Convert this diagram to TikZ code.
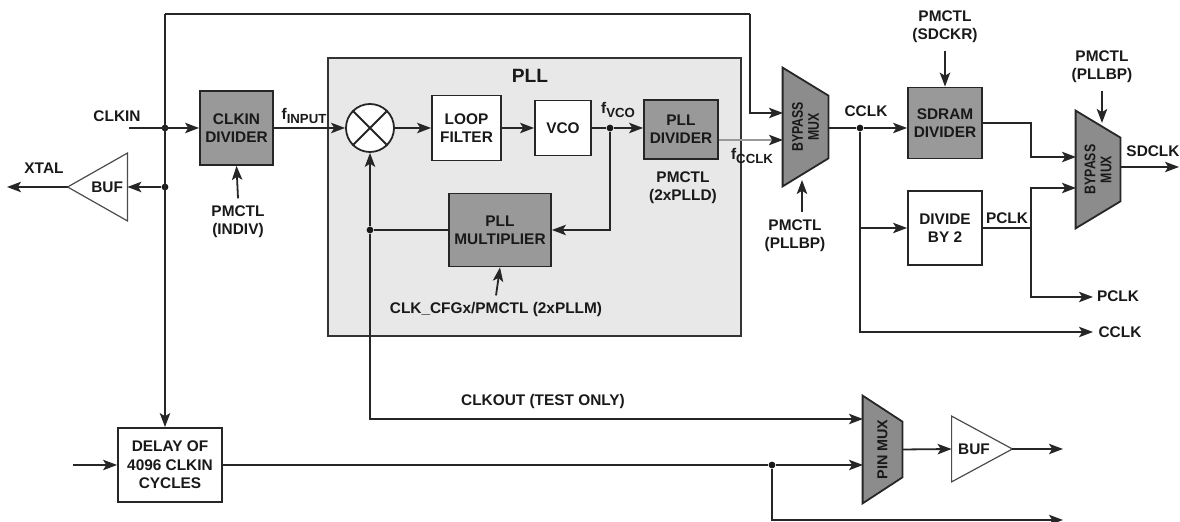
\documentclass[tikz,border=0pt]{standalone}
\usepackage{fontspec}
\setmainfont{Liberation Sans}
\newfontfamily\narrowsans[FakeStretch=0.8]{Liberation Sans}
\usetikzlibrary{arrows.meta, positioning, calc}
\tikzset{>={Stealth[length=7pt,width=5.2pt,inset=1.6pt]}}
\newcommand{\fsig}[2]{#1\raisebox{-0.5ex}{\fontsize{6.6}{7}\selectfont #2}}

\begin{document}
\begin{tikzpicture}[
  x=0.5pt, y=-0.5pt,
  txt/.style={font=\bfseries\fontsize{7.7}{9.2}\selectfont, text=black!90, align=center, inner sep=0pt},
  ctl/.style={txt, inner ysep=3.5pt},
  block/.style={txt, draw=black!85, line width=0.9pt, fill=white},
  gblock/.style={block, fill=black!40},
  sig/.style={->, line width=0.9pt, draw=black!85},
  wire/.style={line width=0.9pt, draw=black!85},
  graysig/.style={line width=0.9pt, draw=black!40, -{Stealth[length=7pt,width=5.2pt,inset=1.6pt,black!85]}},
  dot/.style={circle, fill=black!90, inner sep=0pt, minimum size=3.4pt},
  muxbody/.style={draw=black!85, line width=0.9pt, fill=black!45},
  muxtxt/.style={txt, font=\narrowsans\bfseries\fontsize{7.7}{8}\selectfont, rotate=90},
  bufbody/.style={draw=black!70, line width=0.6pt, fill=white},
  frame/.style={inner sep=0pt}
]
  \useasboundingbox (0,0) rectangle (1180,522);

  % PLL area
  \node[draw=black!80, line width=0.9pt, fill=black!9, minimum width=206.5pt, minimum height=139pt] (pll) at (534.5,197) {};
  \node[txt, font=\bfseries\fontsize{9.6}{10}\selectfont] (pllLbl) at (530,76) {PLL};

  % Nodes
  \node[gblock, minimum width=36.5pt, minimum height=37pt] (clkDiv) at (236.5,128) {CLKIN\\DIVIDER};
  \node[circle, draw=black!85, line width=0.9pt, fill=white, minimum size=24pt] (mix) at (370,128) {};
  \draw[wire] (mix.north west) -- (mix.south east) (mix.north east) -- (mix.south west);
  \node[block, minimum width=34.5pt, minimum height=32.5pt] (loopF) at (466.5,128) {LOOP\\FILTER};
  \node[block, minimum width=28pt, minimum height=27.5pt] (vco) at (563,128) {VCO};
  \node[gblock, minimum width=37pt, minimum height=29.5pt] (pllDiv) at (681,129.5) {PLL\\DIVIDER};
  \node[gblock, minimum width=51pt, minimum height=36.5pt] (pllMul) at (500,230) {PLL\\MULTIPLIER};
  \node[gblock, minimum width=37pt, minimum height=35.5pt] (sdDiv) at (945,123) {SDRAM\\DIVIDER};
  \node[block, minimum width=37pt, minimum height=37pt] (div2) at (945,228) {DIVIDE\\BY 2};
  \node[block, minimum width=52pt, minimum height=37pt] (delay) at (170,465) {DELAY OF\\4096 CLKIN\\CYCLES};

  % Muxes and buffers
  \node[frame, minimum width=22.5pt, minimum height=59pt] (muxA) at (805.5,127) {};
  \node[frame, minimum width=22pt, minimum height=58.5pt] (muxB) at (1098,169.5) {};
  \node[frame, minimum width=19.5pt, minimum height=53.5pt] (pinMux) at (882.5,449.5) {};
  \foreach \m/\s in {muxA/14pt, muxB/13.5pt, pinMux/13pt}
    \draw[muxbody] (\m.north west) -- ([yshift=-\s]\m.north east) -- ([yshift=\s]\m.south east) -- (\m.south west) -- cycle;
  \node[muxtxt] (muxAtxt) at (muxA) {BYPASS\\MUX};
  \node[muxtxt] (muxBtxt) at (muxB) {BYPASS\\MUX};
  \node[muxtxt, font=\bfseries\fontsize{7.2}{8}\selectfont] (pinMuxtxt) at (pinMux) {PIN MUX};

  \node[frame, minimum width=29.5pt, minimum height=33.5pt] (bufA) at (97.5,187) {};
  \node[frame, minimum width=30pt, minimum height=32.5pt] (bufB) at (982,449) {};
  \draw[bufbody] (bufA.north east) -- (bufA.west) -- (bufA.south east) -- cycle;
  \draw[bufbody] (bufB.north west) -- (bufB.east) -- (bufB.south west) -- cycle;
  \node[txt] (bufAtxt) at ([xshift=4.8pt]bufA.center) {BUF};
  \node[txt] (bufBtxt) at ([xshift=-4pt]bufB.center) {BUF};

  % Junctions and free ends
  \node[dot] (jClk) at (165,128) {};
  \node[dot] (jBuf) at (165,187) {};
  \node[dot] (jVco) at (610,128) {};
  \node[dot] (jMul) at (370,230) {};
  \node[dot] (jCclk) at (860,128) {};
  \node[dot] (jDly) at (772,465) {};
  \coordinate (clkIn) at (129,128);
  \coordinate (xtalOut) at (7,187);
  \coordinate (loopTL) at (165,14);
  \coordinate (loopTR) at (750,14);
  \coordinate (muxAin1) at (783,113);
  \coordinate (muxAin2) at (783,140);
  \coordinate (muxAsel) at (802,180);
  \coordinate (muxBin1) at (1076,157);
  \coordinate (muxBin2) at (1076,188);
  \coordinate (muxBsel) at (1102,123);
  \coordinate (bendB) at (1031,0);
  \coordinate (pclkOut) at (1093,297);
  \coordinate (cclkOut) at (1093,332);
  \coordinate (sdclkOut) at (1179,167);
  \coordinate (pinIn1) at (863,419);
  \coordinate (pinIn2) at (863,465);
  \coordinate (dlyIn) at (73,465);
  \coordinate (bufOut) at (1063,449);
  \coordinate (auxOut) at (1063,520);

  % Labels
  \node[txt] (clkinLbl) at (117,116) {CLKIN};
  \node[txt] (xtalLbl) at (44,168) {XTAL};
  \node[ctl] (indivLbl) at (238,222) {PMCTL\\(INDIV)};
  \node[txt] (finLbl) at (304,116) {\fsig{f}{INPUT}};
  \node[txt] (fvcoLbl) at (618,110) {\fsig{f}{VCO}};
  \node[txt] (plldLbl) at (683,188) {PMCTL\\(2xPLLD)};
  \node[txt] (fcclkLbl) at (752,156) {\fsig{f}{CCLK}};
  \node[ctl] (pllmLbl) at (496,310) {CLK\_CFGx/PMCTL (2xPLLM)};
  \node[txt] (clkoutLbl) at (543,402) {CLKOUT (TEST ONLY)};
  \node[txt] (cclkLbl) at (866,111) {CCLK};
  \node[ctl] (sdckrLbl) at (945,27) {PMCTL\\(SDCKR)};
  \node[ctl] (bpALbl) at (795,236) {PMCTL\\(PLLBP)};
  \node[ctl] (bpBLbl) at (1102,67) {PMCTL\\(PLLBP)};
  \node[txt] (pclkLbl) at (1007,218) {PCLK};
  \node[txt] (pclkOutLbl) at (1118,296) {PCLK};
  \node[txt] (cclkOutLbl) at (1120,332) {CCLK};
  \node[txt] (sdclkLbl) at (1153,151) {SDCLK};

  % Paths: clock input side
  \draw[sig] (clkIn) -- (clkDiv.west);
  \draw[sig] (jBuf) -- (bufA.east);
  \draw[sig] (bufA.west) -- (xtalOut);
  \draw[wire] (loopTL) -- (loopTR);
  \draw[sig] (loopTR) |- (muxAin1);
  \draw[sig] (loopTL) -- (jClk |- delay.north);
  \draw[sig] (indivLbl.north) -- (clkDiv.south);

  % Paths: PLL loop
  \draw[sig] (clkDiv.east) -- (mix.west);
  \draw[sig] (mix.east) -- (loopF.west);
  \draw[sig] (loopF.east) -- (vco.west);
  \draw[wire] (vco.east) -- (jVco);
  \draw[sig] (jVco) -- (pllDiv.west |- jVco);
  \draw[sig] (jVco) |- (pllMul.east);
  \draw[wire] (pllMul.west) -- (jMul);
  \draw[sig] (jMul) -- (mix.south);
  \draw[sig] (pllmLbl.north) -- (pllMul.south);
  \draw[graysig] (pllDiv.east |- muxAin2) -- (muxAin2);

  % Paths: core clock side
  \draw[sig] (bpALbl.north -| muxAsel) -- (muxAsel);
  \draw[wire] (muxA.east |- jCclk) -- (jCclk);
  \draw[sig] (jCclk) -- (sdDiv.west |- jCclk);
  \draw[sig] (sdckrLbl.south) -- (sdDiv.north);
  \draw[sig] (jCclk |- div2.west) -- (div2.west);
  \draw[sig] (jCclk) |- (cclkOut);
  \draw[sig] (sdDiv.east) -| (bendB |- muxBin1) -- (muxBin1);
  \draw[sig] (div2.east) -| (bendB |- muxBin2) -- (muxBin2);
  \draw[sig] (div2.east -| bendB) |- (pclkOut);
  \draw[sig] (bpBLbl.south) -- (muxBsel);
  \draw[sig] (muxB.east |- sdclkOut) -- (sdclkOut);

  % Paths: test output
  \draw[sig] (jMul) |- (pinIn1);
  \draw[sig] (dlyIn) -- (delay.west);
  \draw[wire] (delay.east) -- (jDly);
  \draw[sig] (jDly) -- (pinIn2);
  \draw[sig] (jDly) |- (auxOut);
  \draw[sig] (pinMux.east) -- (bufB.west);
  \draw[sig] (bufB.east) -- (bufOut);
\end{tikzpicture}
\end{document}
